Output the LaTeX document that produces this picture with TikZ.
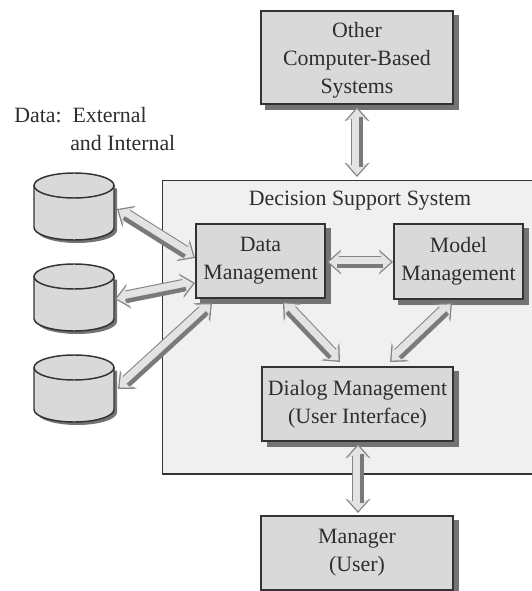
\documentclass[tikz,border=0pt]{standalone}
\usepackage{xcolor}
\usepackage{fontspec}
\setmainfont{Liberation Serif}
\usepackage{tikz}
\usetikzlibrary{arrows.meta,shadows}

\definecolor{boxgray}{rgb}{0.85,0.85,0.85}
\definecolor{panelgray}{rgb}{0.94,0.94,0.94}
\definecolor{shadegray}{rgb}{0.45,0.45,0.45}
\definecolor{edgegray}{rgb}{0.2,0.2,0.2}
\definecolor{inkgray}{rgb}{0.18,0.18,0.18}

\tikzset{
  mgmtbox/.style={draw=edgegray,line width=1.1pt,fill=boxgray,inner sep=0pt,align=center,text=inkgray,
    font=\fontsize{16.4}{21}\selectfont,
    copy shadow={shadow xshift=3.8pt,shadow yshift=-3.8pt,fill=shadegray,draw=shadegray}},
  store/.pic={
    \fill [shadegray] (-37,-3) -- (-37,-45) arc[start angle=180,end angle=360,x radius=40,y radius=12.5] -- (43,-3) -- cycle;
    \draw [draw=edgegray,line width=1.1pt,fill=boxgray] (-40,0) -- (-40,-42) arc[start angle=180,end angle=360,x radius=40,y radius=12.5] -- (40,0);
    \draw [draw=edgegray,line width=1.1pt,fill=boxgray] (0,0) ellipse [x radius=40,y radius=12.5];
  },
  flowedge/.style={line width=9.6pt,draw=black!48,fill=black!48,
    {Stealth[length=10.5pt,width=18.5pt,inset=3.2pt]}-{Stealth[length=10.5pt,width=18.5pt,inset=3.2pt]}},
  flowfill/.style={line width=8pt,draw=boxgray!72,fill=boxgray!72,shorten >=1.5pt,shorten <=1.5pt,
    {Stealth[length=8.5pt,width=15pt,inset=2.6pt]}-{Stealth[length=8.5pt,width=15pt,inset=2.6pt]}},
  flowdark/.style={line width=3pt,draw=black!52,shorten >=7.5pt,shorten <=7.5pt},
  label/.style={font=\fontsize{16.4}{21}\selectfont,align=left,inner sep=0pt,text=inkgray}
}

\begin{document}
\begin{tikzpicture}[x=0.75pt,y=0.75pt,yscale=-1,xscale=1]
\useasboundingbox (0,0) rectangle (531,591);

%Panel
\node (panel) [draw=edgegray,line width=0.9pt,fill=panelgray,minimum width=375pt,minimum height=220pt,anchor=north west,inner sep=0pt] at (162,180) {};
\node (paneltitle) [label] at (360,201) {Decision Support System};

%Boxes
\node (other) [mgmtbox,minimum width=144pt,minimum height=70pt] at (357,57.5) {\rule{0pt}{15pt}Other\\Computer-Based\\Systems};
\node (data) [mgmtbox,minimum width=97pt,minimum height=55.5pt] at (260.5,261) {Data\\Management};
\node (model) [mgmtbox,minimum width=97pt,minimum height=56pt] at (458.5,261.5) {Model\\Management};
\node (dialog) [mgmtbox,minimum width=143pt,minimum height=55.5pt] at (357.5,404) {Dialog Management\\(User Interface)};
\node (manager) [mgmtbox,minimum width=144pt,minimum height=55.5pt] at (357,553) {Manager\\(User)};

%Data stores
\pic (storea) at (74,185.5) {store};
\pic (storeb) at (74,276.5) {store};
\pic (storec) at (74,367.5) {store};

%Text Node
\node (datalabel) [label,anchor=north west] at (14,107) {Data:\ \ External\\\hspace{42pt}and Internal};

%Ends of the arrows
\coordinate (sa) at (117,209);
\coordinate (da) at (195,258);
\coordinate (sb) at (115,299);
\coordinate (db) at (195,283);
\coordinate (sc) at (118,389);
\coordinate (dc) at (212,303);
\coordinate (dm) at (327,262);
\coordinate (md) at (393,262);
\coordinate (dd) at (283,302);
\coordinate (dg) at (340,362);
\coordinate (mg) at (390,362);
\coordinate (gm) at (452,303);
\coordinate (ot) at (357,107);
\coordinate (tp) at (357,177);
\coordinate (gd) at (358,444);
\coordinate (mu) at (358,513);

%Arrows
\foreach \from/\to/\ox/\oy in {sa/da/-1.3/2.7,sb/db/0.6/2.9,sc/dc/2/2.2,dm/md/0/3,dd/dg/-2.1/2.1,mg/gm/2.1/2.1,ot/tp/3/0,gd/mu/3/0}{
  \draw [flowedge] (\from) -- (\to);
  \draw [flowfill] (\from) -- (\to);
  \draw [flowdark] ([shift={(\ox pt,\oy pt)}]\from) -- ([shift={(\ox pt,\oy pt)}]\to);
}
\end{tikzpicture}
\end{document}
